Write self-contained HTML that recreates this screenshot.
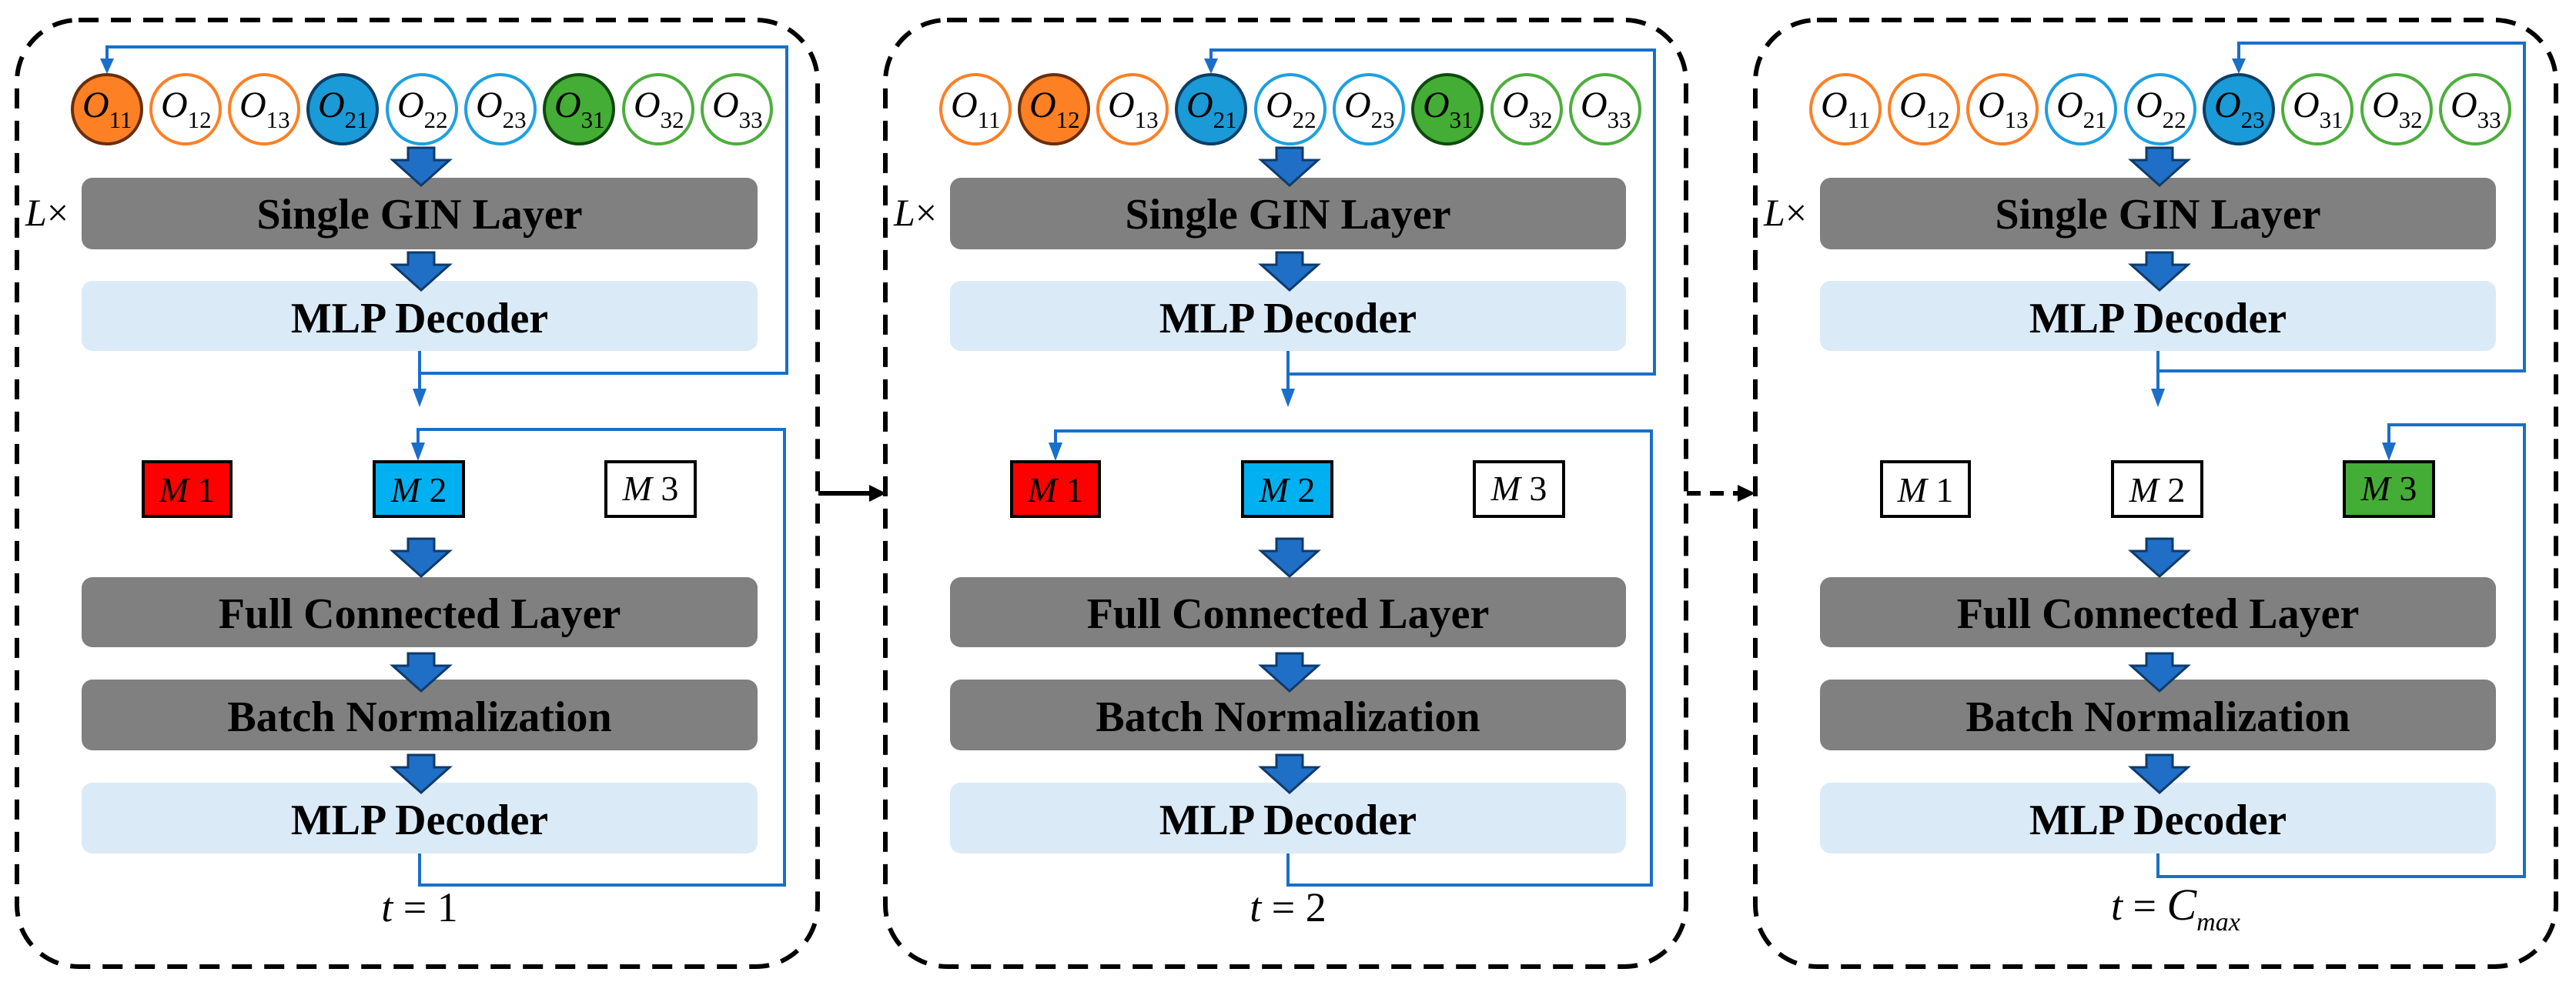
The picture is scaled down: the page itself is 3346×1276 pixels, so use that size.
<!DOCTYPE html>
<html><head><meta charset="utf-8"><style>
html,body{margin:0;padding:0;background:#fff;}
svg{display:block;}
svg, svg text, svg tspan{font-family:"Liberation Serif","Noto Serif CJK SC","DejaVu Serif",serif;}
.b{font-weight:bold;font-size:56px;text-anchor:middle;fill:#000;}
</style></head><body>
<svg width="3346" height="1276" viewBox="0 0 3346 1276" xmlns="http://www.w3.org/2000/svg">
<defs>
<g id="barrow"><path d="M-17,0 h34 v16 h20 l-37,33 l-37,-33 h20 z" fill="#1f6fc6" stroke="#0f3a6b" stroke-width="3"/></g>
<g id="common">
  <rect x="22" y="26" width="1040" height="1230" rx="80" ry="80" fill="none" stroke="#000" stroke-width="6" stroke-dasharray="26,16"/>
  <text x="33" y="293" font-size="50"><tspan font-style="italic">L</tspan>×</text>
  <rect x="106" y="231" width="878" height="93" rx="14" fill="#808080"/>
  <text class="b" x="545" y="297">Single GIN Layer</text>
  <rect x="106" y="365" width="878" height="91" rx="14" fill="#daeaf7"/>
  <text class="b" x="545" y="432">MLP Decoder</text>
  <rect x="106" y="750" width="878" height="91" rx="14" fill="#808080"/>
  <text class="b" x="545" y="816">Full Connected Layer</text>
  <rect x="106" y="883" width="878" height="92" rx="14" fill="#808080"/>
  <text class="b" x="545" y="950">Batch Normalization</text>
  <rect x="106" y="1017" width="878" height="92" rx="14" fill="#daeaf7"/>
  <text class="b" x="545" y="1084">MLP Decoder</text>
  <use href="#barrow" x="547" y="192"/>
  <use href="#barrow" x="547" y="328"/>
  <use href="#barrow" x="547" y="700"/>
  <use href="#barrow" x="547" y="849"/>
  <use href="#barrow" x="547" y="981"/>
  <path d="M545,456 V508" stroke="#1a6fc8" stroke-width="4" fill="none"/>
  <path d="M536,505 h18 l-9,24 z" fill="#1a6fc8"/>
</g>
<g id="olabels" font-size="48">
    <text x="107" y="152"><tspan font-style="italic">O</tspan><tspan font-size="31" dy="14">11</tspan></text>
    <text x="209" y="152"><tspan font-style="italic">O</tspan><tspan font-size="31" dy="14">12</tspan></text>
    <text x="311" y="152"><tspan font-style="italic">O</tspan><tspan font-size="31" dy="14">13</tspan></text>
    <text x="413" y="152"><tspan font-style="italic">O</tspan><tspan font-size="31" dy="14">21</tspan></text>
    <text x="516" y="152"><tspan font-style="italic">O</tspan><tspan font-size="31" dy="14">22</tspan></text>
    <text x="618" y="152"><tspan font-style="italic">O</tspan><tspan font-size="31" dy="14">23</tspan></text>
    <text x="720" y="152"><tspan font-style="italic">O</tspan><tspan font-size="31" dy="14">31</tspan></text>
    <text x="823" y="152"><tspan font-style="italic">O</tspan><tspan font-size="31" dy="14">32</tspan></text>
    <text x="925" y="152"><tspan font-style="italic">O</tspan><tspan font-size="31" dy="14">33</tspan></text>
</g>
<g id="mlabels" font-size="46" text-anchor="middle">
  <text x="243" y="652"><tspan font-style="italic">M</tspan> 1</text>
  <text x="544" y="652"><tspan font-style="italic">M</tspan> 2</text>
  <text x="845" y="650"><tspan font-style="italic">M</tspan> 3</text>
</g>
</defs>

<g>
  <use href="#common"/>
  <g stroke-width="4">
    <circle cx="139" cy="142" r="45" fill="#fd8025" stroke="#6a2e0a"/>
    <circle cx="241" cy="142" r="45" fill="#fff" stroke="#fd8025"/>
    <circle cx="343" cy="142" r="45" fill="#fff" stroke="#fd8025"/>
    <circle cx="445" cy="142" r="45" fill="#1a9ad6" stroke="#0b3f66"/>
    <circle cx="548" cy="142" r="45" fill="#fff" stroke="#1ca0e0"/>
    <circle cx="650" cy="142" r="45" fill="#fff" stroke="#1ca0e0"/>
    <circle cx="752" cy="142" r="45" fill="#44ad35" stroke="#0e4a0e"/>
    <circle cx="855" cy="142" r="45" fill="#fff" stroke="#4cae3c"/>
    <circle cx="957" cy="142" r="45" fill="#fff" stroke="#4cae3c"/>
  </g>
  <use href="#olabels"/>
  <g stroke="#000" stroke-width="4">
    <rect x="186" y="600" width="114" height="71" fill="#ff0000"/>
    <rect x="486" y="600" width="116" height="71" fill="#00b0f0"/>
    <rect x="787" y="600" width="116" height="71" fill="#fff"/>
  </g>
  <use href="#mlabels"/>
  <path d="M545,485 H1022 V61 H139 V80" stroke="#1a6fc8" stroke-width="4" fill="none"/>
  <path d="M130,76 h18 l-9,20 z" fill="#1a6fc8"/>
  <path d="M545,1109 V1150 H1019 V558 H543 V578" stroke="#1a6fc8" stroke-width="4" fill="none"/>
  <path d="M534,575 h18 l-9,24 z" fill="#1a6fc8"/>
  <text x="545" y="1197" font-size="54" text-anchor="middle"><tspan font-style="italic">t</tspan> = 1</text>
</g>

<path d="M1063,641 H1132" stroke="#000" stroke-width="6"/>
<path d="M1129,630 L1151,641 L1129,652 z" fill="#000"/>

<g transform="translate(1128,0)">
  <use href="#common"/>
  <g stroke-width="4">
    <circle cx="139" cy="142" r="45" fill="#fff" stroke="#fd8025"/>
    <circle cx="241" cy="142" r="45" fill="#fd8025" stroke="#6a2e0a"/>
    <circle cx="343" cy="142" r="45" fill="#fff" stroke="#fd8025"/>
    <circle cx="445" cy="142" r="45" fill="#1a9ad6" stroke="#0b3f66"/>
    <circle cx="548" cy="142" r="45" fill="#fff" stroke="#1ca0e0"/>
    <circle cx="650" cy="142" r="45" fill="#fff" stroke="#1ca0e0"/>
    <circle cx="752" cy="142" r="45" fill="#44ad35" stroke="#0e4a0e"/>
    <circle cx="855" cy="142" r="45" fill="#fff" stroke="#4cae3c"/>
    <circle cx="957" cy="142" r="45" fill="#fff" stroke="#4cae3c"/>
  </g>
  <use href="#olabels"/>
  <g stroke="#000" stroke-width="4">
    <rect x="186" y="600" width="114" height="71" fill="#ff0000"/>
    <rect x="486" y="600" width="116" height="71" fill="#00b0f0"/>
    <rect x="787" y="600" width="116" height="71" fill="#fff"/>
  </g>
  <use href="#mlabels"/>
  <path d="M545,486 H1021 V65 H445 V80" stroke="#1a6fc8" stroke-width="4" fill="none"/>
  <path d="M436,76 h18 l-9,20 z" fill="#1a6fc8"/>
  <path d="M545,1109 V1150 H1017 V560 H243 V578" stroke="#1a6fc8" stroke-width="4" fill="none"/>
  <path d="M234,575 h18 l-9,24 z" fill="#1a6fc8"/>
  <text x="545" y="1197" font-size="54" text-anchor="middle"><tspan font-style="italic">t</tspan> = 2</text>
</g>

<path d="M2191,641 H2260" stroke="#000" stroke-width="6" stroke-dasharray="18,12"/>
<path d="M2257,630 L2280,641 L2257,652 z" fill="#000"/>

<g transform="translate(2258,0)">
  <use href="#common"/>
  <g stroke-width="4">
    <circle cx="139" cy="142" r="45" fill="#fff" stroke="#fd8025"/>
    <circle cx="241" cy="142" r="45" fill="#fff" stroke="#fd8025"/>
    <circle cx="343" cy="142" r="45" fill="#fff" stroke="#fd8025"/>
    <circle cx="445" cy="142" r="45" fill="#fff" stroke="#1ca0e0"/>
    <circle cx="548" cy="142" r="45" fill="#fff" stroke="#1ca0e0"/>
    <circle cx="650" cy="142" r="45" fill="#1a9ad6" stroke="#0b3f66"/>
    <circle cx="752" cy="142" r="45" fill="#fff" stroke="#4cae3c"/>
    <circle cx="855" cy="142" r="45" fill="#fff" stroke="#4cae3c"/>
    <circle cx="957" cy="142" r="45" fill="#fff" stroke="#4cae3c"/>
  </g>
  <use href="#olabels"/>
  <g stroke="#000" stroke-width="4">
    <rect x="186" y="600" width="114" height="71" fill="#fff"/>
    <rect x="486" y="600" width="116" height="71" fill="#fff"/>
    <rect x="787" y="600" width="116" height="71" fill="#44ad35"/>
  </g>
  <use href="#mlabels"/>
  <path d="M545,482 H1021 V56 H650 V80" stroke="#1a6fc8" stroke-width="4" fill="none"/>
  <path d="M641,76 h18 l-9,20 z" fill="#1a6fc8"/>
  <path d="M545,1109 V1139 H1021 V552 H845 V578" stroke="#1a6fc8" stroke-width="4" fill="none"/>
  <path d="M836,575 h18 l-9,24 z" fill="#1a6fc8"/>
  <text x="484" y="1195" font-size="54"><tspan font-style="italic">t</tspan> = <tspan font-style="italic" font-size="58">C</tspan><tspan font-style="italic" font-size="34" dy="14">max</tspan></text>
</g>
</svg>
</body></html>
